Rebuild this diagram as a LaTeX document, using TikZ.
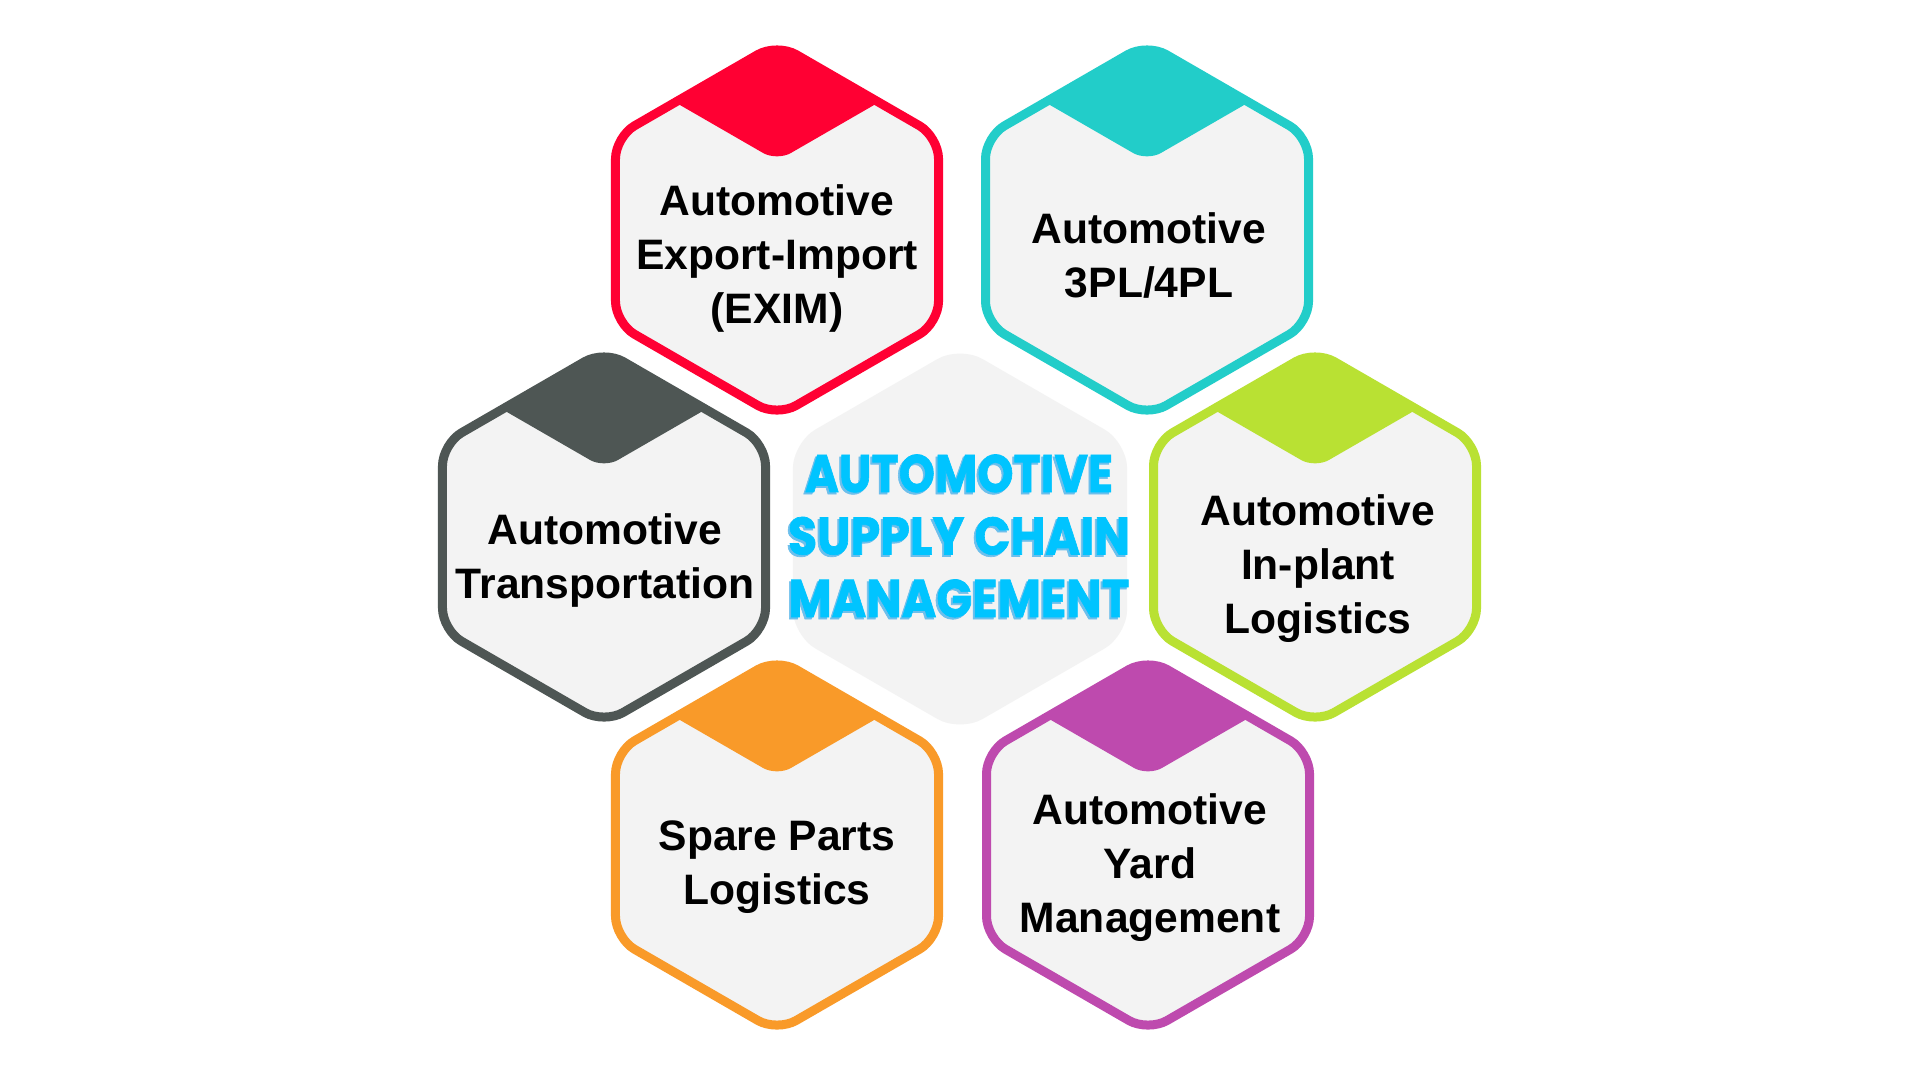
\documentclass[tikz,border=0pt]{standalone}
\usepackage{fontspec}
\usepackage{graphicx}
\setmainfont{Liberation Sans}
\newfontfamily\titlefont{Poppins}[BoldFeatures={FakeBold=1.3}]
\definecolor{hexbg}{HTML}{F3F3F3}
\definecolor{cred}{HTML}{FF0033}
\definecolor{cteal}{HTML}{22CDC9}
\definecolor{cgray}{HTML}{4E5654}
\definecolor{cgreen}{HTML}{B9E133}
\definecolor{corange}{HTML}{F99A29}
\definecolor{cpurple}{HTML}{BE4AAE}
\definecolor{ctitle}{HTML}{00C4FF}
\definecolor{cshadow}{HTML}{6CBFEC}
\newcommand\hexpath[1]{(90:#1) -- (150:#1) -- (210:#1) -- (270:#1) -- (330:#1) -- (30:#1) -- cycle}
\newcommand\stacklines[1]{\setlength\tabcolsep{0pt}\begin{tabular}[t]{c}#1\end{tabular}}
\newcommand\colhex[4]{%
  \begin{scope}[shift={(#2,#3)}]
    \fill[hexbg, rounded corners=11pt] \hexpath{186.5};
    \begin{scope}
      \clip[rounded corners=11pt] \hexpath{186.5};
      \fill[#4, rounded corners=8pt] (-260,-219) -- (0,-69) -- (260,-219) -- (260,-300) -- (-260,-300) -- cycle;
    \end{scope}
    \draw[#4, hexline] \hexpath{186.5};
    \coordinate (#1) at (0,0);
  \end{scope}}
\tikzset{
  hexline/.style={line width=4.5pt, rounded corners=11pt, line join=round},
  lbl/.style={anchor=base, inner sep=0pt, text=black, font=\fontsize{21.3}{27}\selectfont\bfseries},
  titletext/.style={anchor=base, inner sep=0pt, font=\titlefont\bfseries\fontsize{26}{31.25}\selectfont},
}
\begin{document}
\begin{tikzpicture}[x=0.5pt, y=-0.5pt]
\useasboundingbox (0,0) rectangle (1920,1078);
\fill[white] (0,0) rectangle (1920,1078);
% centre hexagon
\begin{scope}[shift={(960,539)}]
  \fill[hexbg, rounded corners=13pt] \hexpath{193};
  \coordinate (hc) at (0,0);
\end{scope}
\colhex{hred}{777}{230}{cred}
\colhex{hteal}{1147}{230}{cteal}
\colhex{hgray}{604}{537}{cgray}
\colhex{hgreen}{1315}{537}{cgreen}
\colhex{horange}{777}{845}{corange}
\colhex{hpurple}{1148}{845}{cpurple}
% labels
\node[lbl] (exim) at (777,215) {\stacklines{Automotive\\Export-Import\\(EXIM)}};
\node[lbl] (tpl) at (1149,243) {\stacklines{Automotive\\3PL/4PL}};
\node[lbl] (trans) at (605,544) {\stacklines{Automotive\\Transportation}};
\node[lbl] (inplant) at (1318,525) {\stacklines{Automotive\\In-plant\\Logistics}};
\node[lbl] (spare) at (777,850) {\stacklines{Spare Parts\\Logistics}};
\node[lbl] (yard) at (1150,824) {\stacklines{Automotive\\Yard\\Management}};
% title
\node[titletext, text=cshadow] (titleshadow) at (957,494) {\stacklines{\resizebox{154pt}{18.8pt}{AUTOMOTIVE}\\\resizebox{171pt}{18.8pt}{SUPPLY CHAIN}\\\resizebox{170.5pt}{18.8pt}{MANAGEMENT}}};
\node[titletext, text=ctitle] (title) at (959,492) {\stacklines{\resizebox{154pt}{18.8pt}{AUTOMOTIVE}\\\resizebox{171pt}{18.8pt}{SUPPLY CHAIN}\\\resizebox{170.5pt}{18.8pt}{MANAGEMENT}}};
\end{tikzpicture}
\end{document}
